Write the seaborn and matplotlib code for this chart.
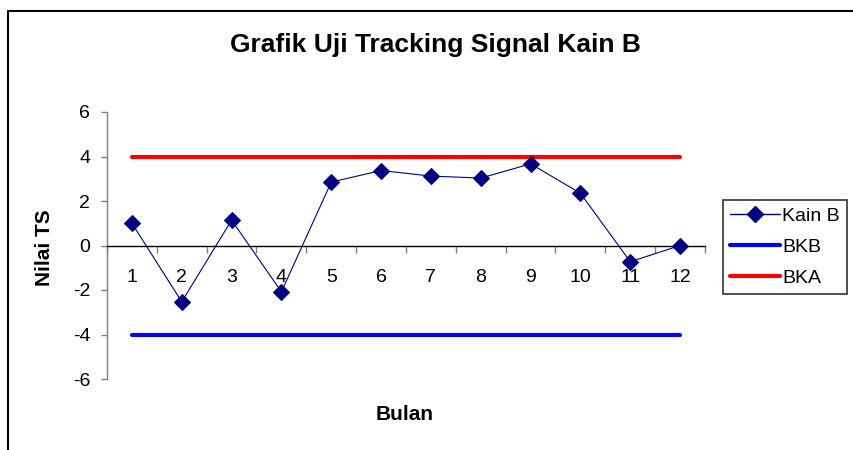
import numpy as np
import matplotlib
matplotlib.use('Agg')
import matplotlib.pyplot as plt
import seaborn as sns
from matplotlib.lines import Line2D

# data
bulan = [1, 2, 3, 4, 5, 6, 7, 8, 9, 10, 11, 12]
kain_b = [1.0, -2.53, 1.14, -2.08, 2.85, 3.37, 3.12, 3.03, 3.67, 2.35, -0.73, 0.0]
bka = [4, 4, 4, 4, 4, 4, 4, 4, 4, 4, 4, 4]
bkb = [-4, -4, -4, -4, -4, -4, -4, -4, -4, -4, -4, -4]
y_ticks = [-6, -4, -2, 0, 2, 4, 6]

sns.set_style('white')
plt.rcParams['font.family'] = ['Liberation Sans', 'DejaVu Sans']
plt.rcParams['axes.unicode_minus'] = False
plt.rcParams['text.color'] = 'black'
plt.rcParams['xtick.color'] = 'black'
plt.rcParams['ytick.color'] = 'black'

fig = plt.figure(figsize=(8.54, 4.5), dpi=100)
ax = fig.add_axes([107 / 854, 71 / 450, 598 / 854, 267 / 450])

sns.lineplot(x=bulan, y=bkb, ax=ax, color='#0000FF', linewidth=3, label='BKB', zorder=2)
sns.lineplot(x=bulan, y=bka, ax=ax, color='#FF0000', linewidth=3, label='BKA', zorder=2)
sns.lineplot(x=bulan, y=kain_b, ax=ax, color='#000080', linewidth=0.8,
             marker='D', markersize=8, markeredgecolor='#000080', label='Kain B', zorder=3)

ax.set_xlim(0.5, 12.5)
ax.set_ylim(-6, 6)

# x axis on the zero line, tick marks at category boundaries
ax.spines['bottom'].set_position(('data', 0))
ax.spines['bottom'].set_color('black')
ax.spines['bottom'].set_linewidth(1)
ax.spines['top'].set_visible(False)
ax.spines['right'].set_visible(False)
ax.spines['left'].set_color('#808080')
ax.spines['left'].set_linewidth(1)

ax.set_xticks(bulan)
ax.set_xticklabels([str(b) for b in bulan])
ax.set_xticks(np.arange(0.5, 13, 1), minor=True)
ax.tick_params(axis='x', which='major', length=0, pad=17, labelsize=14, labelcolor='black')
ax.tick_params(axis='x', which='minor', bottom=True, length=5, width=1, color='#808080', direction='out')

ax.set_yticks(y_ticks)
ax.tick_params(axis='y', left=True, length=4, width=1, color='#808080', direction='out', pad=8,
               labelsize=14, labelcolor='black')

ax.set_xlabel('')
ax.set_ylabel('')
fig.text(405 / 854, 1 - 415 / 450, 'Bulan', ha='center', va='center', fontsize=15, fontweight='bold')
fig.text(45 / 854, 1 - 248 / 450, 'Nilai TS', ha='center', va='center', rotation=90,
         fontsize=15, fontweight='bold')
fig.text(435 / 854, 1 - 45 / 450, 'Grafik Uji Tracking Signal Kain B', ha='center', va='center',
         fontsize=19, fontweight='bold')

# legend in Excel order
handles = [
    Line2D([], [], color='#000080', linewidth=1, marker='D', markersize=8),
    Line2D([], [], color='#0000FF', linewidth=3),
    Line2D([], [], color='#FF0000', linewidth=3),
]
leg = ax.legend(handles, ['Kain B', 'BKB', 'BKA'], loc='center left',
                bbox_to_anchor=(723 / 854, 1 - 247 / 450), bbox_transform=fig.transFigure,
                frameon=True, fancybox=False, edgecolor='black', fontsize=14,
                handlelength=2.6, handletextpad=0.1, labelspacing=0.7, borderpad=0.35,
                borderaxespad=0)
leg.get_frame().set_linewidth(1.2)

# chart border (top and left visible)
fig.add_artist(Line2D([8 / 854, 8 / 854], [0, 1 - 11 / 450], color='black', linewidth=1.5,
                      transform=fig.transFigure))
fig.add_artist(Line2D([8 / 854, 1], [1 - 11 / 450, 1 - 11 / 450], color='black', linewidth=1.5,
                      transform=fig.transFigure))

plt.savefig('out.png', dpi=100)
